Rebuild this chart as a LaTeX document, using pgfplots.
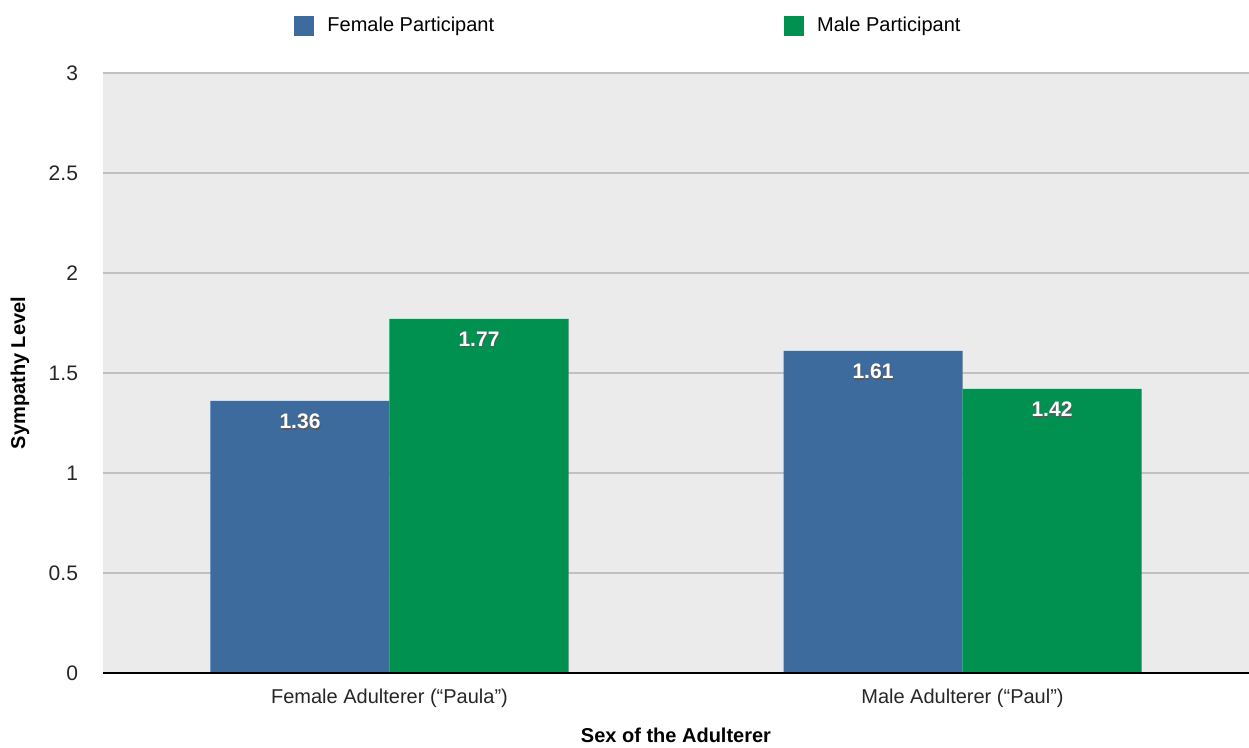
\documentclass[border=0pt]{standalone}
\usepackage{fontspec}
\setmainfont{Liberation Sans}
\usepackage{pgfplots}
\pgfplotsset{compat=1.18}
\definecolor{fblue}{HTML}{3D6B9E}
\definecolor{mgreen}{HTML}{009150}
\definecolor{bggray}{HTML}{EBEBEB}
\definecolor{gridgray}{HTML}{C0C0C0}
\newcommand\shadowtext[1]{\leavevmode\rlap{\hspace{0.5pt}\raisebox{-0.7pt}{\color{black!65}#1}}{\color{white}#1}}
\begin{document}
\begin{tikzpicture}
\useasboundingbox (-51.5pt,-37.5pt) rectangle (573pt,336.5pt);
\begin{axis}[
  scale only axis,
  width=573pt, height=300pt,
  ybar=0pt, bar width=89.5pt,
  xmin=-0.5, xmax=1.5,
  ymin=0, ymax=3,
  xtick={0,1},
  xticklabels={Female Adulterer (“Paula”), Male Adulterer (“Paul”)},
  ytick={0,0.5,1,1.5,2,2.5,3},
  /pgf/number format/assume math mode=true,
  ticklabel style={font=\fontsize{10}{12}\selectfont, text=black!85},
  yticklabel style={xshift=-9pt, font=\fontsize{10.5}{12}\selectfont},
  xticklabel style={yshift=-4.5pt},
  major tick length=0pt,
  axis line style={draw=none},
  ymajorgrids,
  grid style={draw=gridgray, line width=1pt},
  axis background/.style={fill=bggray},
  xlabel={\bfseries Sex of the Adulterer},
  ylabel={\bfseries Sympathy Level},
  xlabel style={at={(axis description cs:0.5,-0.1033)}, anchor=center, font=\fontsize{10}{12}\selectfont},
  ylabel style={at={(axis description cs:-0.0724,0.5)}, anchor=center, font=\fontsize{10}{12}\selectfont},
  legend columns=2,
  legend style={at={(axis description cs:0.1667,1.0783)}, anchor=west, draw=none, fill=none,
    font=\fontsize{10}{12}\selectfont, inner sep=0pt,
    /tikz/every even column/.append style={column sep=143pt},
    cells={anchor=west}},
  legend image code/.code={\fill[#1] (0pt,-5pt) rectangle (10pt,5pt); \path (14.5pt,0pt);},
  nodes near coords={\shadowtext{\pgfmathprintnumber[fixed,precision=2,fixed zerofill]{\pgfplotspointmeta}}},
  every node near coord/.append style={anchor=north, yshift=-3pt, font=\bfseries\fontsize{10.5}{12}\selectfont},
  clip=false,
]
\addplot[fill=fblue, draw=none] coordinates {(0,1.36) (1,1.61)};
\addplot[fill=mgreen, draw=none] coordinates {(0,1.77) (1,1.42)};
\legend{Female Participant, Male Participant}
\draw[black, line width=1pt] (axis description cs:0,0) -- (axis description cs:1,0);
\end{axis}
\end{tikzpicture}
\end{document}
